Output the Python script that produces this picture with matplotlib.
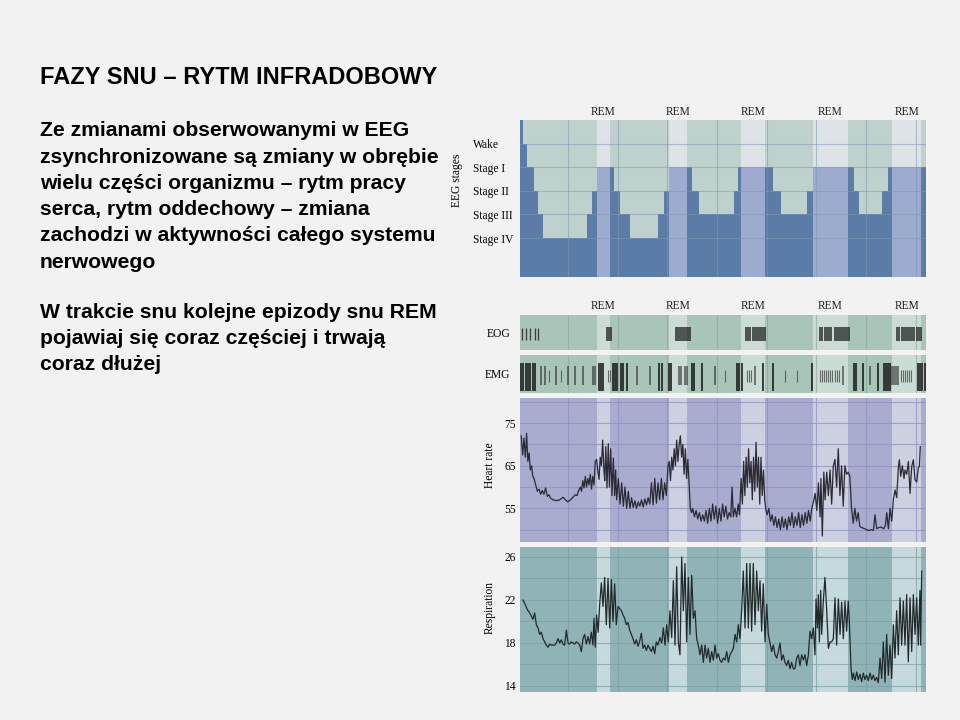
import numpy as np
import matplotlib
matplotlib.use("Agg")
import matplotlib.pyplot as plt

# ---------------- data ----------------
title = "FAZY SNU – RYTM INFRADOBOWY"
para1 = ["Ze zmianami obserwowanymi w EEG",
         "zsynchronizowane są zmiany w obrębie",
         "wielu części organizmu – rytm pracy",
         "serca, rytm oddechowy – zmiana",
         "zachodzi w aktywności całego systemu",
         "nerwowego"]
para2 = ["W trakcie snu kolejne epizody snu REM",
         "pojawiaj się coraz częściej i trwają",
         "coraz dłużej"]

stage_labels = ["Wake", "Stage I", "Stage II", "Stage III", "Stage IV"]
stage_levels = [1, 2, 3, 4, 5]

night_end = 491.1      # minutes
lights_off = 1.6       # minutes before the first hour mark

# hypnogram: segment start (min), depth level, REM flag
hyp_start = [0, 3.3, 8.8, 16.9, 21.8, 28.2, 81.0, 86.7, 92.8,
             108.9, 114.1, 121.0, 133.1, 166.6, 173.8, 180.2,
             201.7, 207.7, 216.9, 258.5, 263.3, 267.3,
             296.4, 305.7, 315.7, 347.5, 354.1,
             397.1, 404.0, 410.4, 438.3, 445.5, 450.4, 485.1]
hyp_level = [0, 1, 2, 3, 4, 5, 4, 3, 2,
             2, 3, 4, 5, 4, 3, 2,
             2, 3, 4, 3, 2, 2,
             2, 3, 4, 3, 2,
             2, 3, 4, 3, 2, 2, 2]
hyp_rem = [0, 0, 0, 0, 0, 0, 0, 0, 1,
           0, 0, 0, 0, 0, 0, 1,
           0, 0, 0, 0, 0, 1,
           0, 0, 0, 0, 1,
           0, 0, 0, 0, 0, 1, 0]

# eye movements (EOG) and muscle tone (EMG) events, minutes
eog_quiet_t = [2.0, 7.3, 12.5, 18.1, 21.5]
eog_burst_t = [105.0, 107.5, 110.5,
               188.5, 191.0, 193.5, 196.0, 198.5, 201.0, 203.5, 206.0,
               273.5, 276.0, 278.5, 281.5, 284.0, 286.5, 289.0, 291.5,
               294.0, 296.5,
               362.5, 365.0, 369.0, 371.5, 374.0, 376.5, 381.0, 383.5,
               386.0, 388.5, 391.0, 393.5, 396.0, 398.5,
               456.5, 459.0, 461.5, 464.0, 467.0, 469.5, 472.0, 474.5,
               477.0, 480.0, 482.5, 485.0]

emg_tall_t = [1.2, 4.0, 6.8, 9.6, 12.4, 15.2, 18.0,
              95.5, 98.5, 101.0, 112.5, 115.0, 117.5,
              122.2, 125.0, 129.0, 168.1, 171.4, 180.0, 183.0,
              207.5, 210.5, 219.8, 262.5, 265.0, 268.0,
              294.3, 305.6, 352.8, 403.5, 406.5, 415.3, 433.4,
              440.0, 442.5, 445.0, 447.5, 481.5, 484.0, 486.5, 489.5]
emg_mid_t = [25.4, 30.2, 43.1, 57.7, 66.5, 76.6, 88.0, 90.5,
             141.2, 157.3, 192.0, 194.5, 200.0, 202.5, 236.0, 284.3,
             391.1, 423.4, 449.5, 452.0, 454.5, 457.0]
emg_short_t = [35.5, 49.6, 106.5, 108.5, 248.0, 274.0, 276.5, 279.0,
               320.5, 334.7, 363.0, 365.5, 368.0, 370.5, 373.0, 375.5,
               378.0, 380.5, 383.0, 385.5, 461.0, 463.5, 466.0, 468.5,
               471.0, 473.5]

# heart rate (beats / min)
hr_t = [1.5, 3.2, 4.8, 6.5, 8.0, 9.5, 11.0, 12.5, 14.0, 15.5, 17.0, 19.0,
        21.0, 23.0, 25.0, 27.0, 29.0, 31.0, 33.0, 35.0, 37.0, 40.0, 44.0,
        48.0, 52.0, 55.0, 58.0, 61.0, 64.0, 67.0, 69.0, 71.0, 73.0, 74.5,
        76.0, 77.5, 79.0, 80.5, 82.0, 83.5, 85.0, 86.5, 88.0, 89.5, 91.0,
        92.7, 94.0, 95.6, 97.0, 98.5, 100.0, 101.5, 102.5, 103.8, 105.2,
        106.8, 108.1, 109.7, 111.3, 112.9, 114.5, 115.7, 116.9, 118.9,
        121.0, 123.0, 125.0, 127.0, 129.0, 131.0, 133.0, 135.0, 137.0,
        139.0, 141.0, 143.0, 145.0, 147.0, 149.0, 151.0, 153.0, 155.0,
        157.0, 159.0, 161.0, 163.0, 165.0, 167.0, 169.0, 171.0, 173.0,
        175.0, 177.0, 179.0,
        180.5, 182.0, 183.5, 185.0, 186.5, 188.0, 189.5, 191.0, 192.5,
        194.0, 195.5, 197.0, 198.5, 200.0, 201.5, 203.0, 204.5, 206.0, 207.5,
        209.0, 211.0, 213.0, 215.0, 217.0, 219.0, 221.0, 223.0, 225.0,
        227.0, 229.0, 231.0, 233.0, 235.0, 237.0, 239.0, 241.0, 243.0,
        245.0, 247.0, 249.0, 251.0, 253.0, 255.0, 256.5, 258.0, 260.0,
        262.0, 264.0, 265.5,
        267.5, 269.0, 270.5, 272.0, 273.5, 275.0, 276.5, 278.0, 279.5,
        281.0, 282.5, 284.0, 285.5, 287.0, 288.5, 290.0, 291.5, 293.0,
        294.5, 296.0, 297.5,
        299.0, 301.0, 303.0, 305.0, 307.0, 309.0, 311.0, 313.0, 315.0,
        317.0, 319.0, 321.0, 323.0, 325.0, 327.0, 329.0, 331.0, 333.0,
        335.0, 337.0, 339.0, 341.0, 343.0, 345.0, 347.0, 349.0, 351.0, 353.0,
        355.5, 357.0, 359.0, 361.0, 363.0, 364.0, 365.7, 367.5, 369.0,
        371.0, 373.0, 375.0, 377.0, 379.0, 381.0, 383.0, 385.0, 387.0,
        389.0, 391.0, 393.0, 395.0, 397.0, 399.0, 401.0,
        403.0, 405.0, 407.0, 409.0, 411.0, 413.0, 416.0, 419.0, 422.0,
        425.0, 427.5, 429.4, 431.5, 434.0, 437.0, 440.0, 442.0, 443.6,
        445.6, 447.6, 449.6,
        451.6, 453.6, 455.7, 457.7, 458.9, 460.5, 462.5, 464.5, 465.7,
        467.8, 469.8, 471.8, 473.8, 475.8, 477.8, 479.9, 481.9, 483.1, 484.2]
hr_bpm = [72.0, 67.5, 71.5, 67.0, 72.6, 66.0, 68.0, 64.0, 65.0, 62.5, 62.0, 60.5,
          59.0, 59.5, 58.3, 59.2, 58.3, 59.8, 57.8, 58.2, 57.4, 57.0, 56.8,
          57.0, 57.6, 57.0, 56.5, 57.0, 57.6, 58.2, 58.0, 59.2, 60.0, 59.0,
          61.5, 59.8, 62.5, 60.0, 62.0, 60.5, 63.0, 59.5, 62.5, 60.5, 66.0,
          66.5, 64.0, 61.8, 67.0, 65.0, 71.0, 64.0, 61.5, 69.5, 59.8,
          70.2, 60.0, 69.0, 58.0, 66.8, 58.0, 64.0, 57.0, 62.0,
          56.0, 61.0, 55.5, 60.0, 55.0, 59.0, 55.0, 57.5, 55.2,
          56.8, 55.0, 56.5, 55.5, 57.0, 55.3, 57.2, 55.8, 57.5,
          56.0, 61.0, 55.8, 62.0, 56.2, 61.0, 57.0, 62.0, 57.0,
          61.0, 58.0, 65.0,
          66.0, 61.5, 67.0, 64.0, 69.0, 65.0, 71.0, 66.0, 70.0,
          72.0, 67.0, 70.0, 63.0, 69.0, 62.0, 66.5, 61.0, 55.0, 54.0,
          55.0, 53.0, 54.5, 52.5, 54.0, 52.0, 53.5, 52.0, 54.5,
          51.5, 55.0, 52.0, 56.0, 52.5, 55.5, 51.5, 55.0, 52.0,
          56.0, 53.0, 55.5, 52.5, 54.0, 53.0, 60.0, 53.0, 55.0,
          53.0, 56.0, 53.5,
          62.0, 56.0, 66.0, 58.0, 67.0, 60.0, 69.0, 61.0, 66.0,
          57.0, 67.0, 59.0, 70.5, 60.0, 67.0, 56.0, 67.0, 58.0,
          64.0, 57.0, 54.5,
          53.5, 55.0, 52.0, 53.5, 51.0, 53.0, 50.5, 52.5, 50.0,
          53.0, 50.5, 52.5, 50.0, 53.0, 51.0, 54.0, 50.5, 53.0,
          51.0, 54.0, 50.5, 53.5, 51.0, 54.0, 51.5, 54.5, 52.0, 55.0,
          57.0, 58.5, 54.5, 61.0, 53.0, 62.0, 48.5, 63.5, 57.0,
          63.5, 58.0, 64.0, 56.0, 65.0, 66.5, 60.0, 69.0, 58.0,
          65.0, 55.5, 65.0, 63.0, 63.5, 62.5, 55.0,
          51.5, 55.0, 52.0, 54.0, 50.8, 50.5, 50.3, 50.0, 49.8,
          50.0, 49.8, 53.5, 50.2, 50.5, 50.6, 50.2, 51.0, 54.0,
          50.2, 55.0, 52.0,
          57.0, 59.3, 57.5, 64.8, 66.4, 62.5, 65.0, 62.0, 64.0,
          63.0, 66.0, 58.5, 64.8, 66.4, 61.7, 61.2, 64.6, 64.8, 69.5]

# respiration (breaths / min)
resp_t = [3.6, 5.6, 8.9, 11.7, 13.7, 15.7, 17.7, 19.8, 21.8, 23.8, 25.8, 27.8,
          29.8, 31.9, 33.9, 35.9, 37.9, 41.9, 43.9, 46.0, 48.0, 50.0, 52.0,
          54.0, 56.1, 58.1, 60.1, 62.1, 64.1, 66.1, 68.1, 70.2, 72.2, 74.2,
          76.2, 78.2, 80.2, 82.3, 84.3, 86.3, 88.3, 89.5, 91.1, 92.7,
          94.5, 96.4, 98.4, 100.4, 102.4, 104.4, 106.5, 108.5, 110.5, 112.5,
          114.5, 116.5, 118.5, 120.6, 122.6, 124.6, 126.6, 128.6, 130.6,
          132.7, 134.7, 136.7, 138.7, 140.7, 142.8, 144.8, 146.8, 148.8,
          150.8, 152.8, 154.8, 156.9, 158.9, 160.9, 162.9, 164.9, 166.9,
          169.3, 171.4, 173.4, 175.4, 177.4, 179.4, 181.4, 183.5, 185.5,
          187.5, 189.5, 191.5, 193.5, 195.6, 197.6, 199.6, 201.6, 203.6,
          205.6, 207.7, 209.7, 211.7, 213.7, 215.7, 217.7, 219.8, 221.8,
          223.8, 225.8, 227.8, 229.8, 231.8, 233.9, 235.9, 237.9, 239.9,
          241.9, 243.9, 246.0, 248.0, 250.0, 252.0, 254.0, 256.0, 258.1,
          260.1, 262.1, 264.1, 266.1, 268.1, 270.1, 272.2, 274.2, 276.2,
          278.2, 280.2, 282.2, 284.3, 286.3, 288.3, 290.3, 292.3, 294.3,
          296.4, 298.4, 300.4, 302.4, 304.4, 306.4, 308.5, 310.5, 312.5,
          314.5, 316.5, 318.5, 320.5, 322.6, 324.6, 326.6, 328.6, 330.6,
          332.6, 334.7, 336.7, 338.7, 340.7, 342.7, 344.7, 346.8, 348.8,
          350.8, 352.8, 354.8, 356.8, 358.1, 359.7, 360.9, 362.1, 363.7,
          364.9, 366.9, 368.9, 371.0, 373.0, 375.0, 377.0, 379.0, 381.0,
          383.0, 385.1, 387.1, 389.1, 391.1, 393.1, 395.1, 397.0, 398.4,
          400.4, 402.0, 403.2, 405.2, 407.2, 409.2, 411.3, 413.3, 415.3,
          417.3, 419.3, 421.3, 423.4, 425.4, 427.4, 429.4, 431.4, 433.4,
          435.5, 437.5, 439.5, 441.5, 443.5, 445.5, 447.6, 449.6, 451.6,
          453.6, 455.6, 457.6, 459.7, 461.7, 463.7, 465.7, 467.7, 469.7,
          471.8, 473.8, 475.8, 477.8, 479.8, 481.8, 483.8, 484.6, 485.9]
resp_rate = [22.0, 21.7, 21.1, 20.8, 20.5, 20.2, 20.8, 19.7, 19.4, 18.8, 19.0, 18.4,
             18.1, 17.8, 17.6, 17.9, 17.8, 17.8, 18.0, 18.4, 18.0, 18.3, 17.9,
             17.8, 19.2, 18.0, 17.9, 18.1, 18.0, 17.9, 18.1, 18.0, 17.8, 17.2,
             18.4, 18.8, 17.9, 18.6, 17.9, 19.0, 17.8, 20.3, 17.6, 20.6,
             19.0, 21.6, 23.6, 21.4, 24.1, 19.7, 24.0, 19.4, 23.9, 20.0,
             23.5, 19.7, 21.4, 21.2, 21.0, 20.6, 20.3, 19.7, 19.9,
             19.2, 18.8, 18.4, 17.9, 18.3, 17.7, 18.2, 18.9, 17.5,
             17.8, 17.3, 17.8, 17.5, 17.2, 17.7, 17.0, 18.1, 17.8,
             18.5, 18.0, 19.4, 17.8, 19.7, 18.1, 21.0, 18.5, 23.8,
             17.8, 25.1, 18.1, 16.9, 26.0, 21.0, 25.4, 18.1, 24.1,
             18.8, 24.3, 20.3, 21.0, 18.4, 17.8, 16.9, 17.8, 16.2,
             17.8, 16.6, 17.5, 16.2, 17.2, 16.4, 17.8, 16.6, 17.0,
             16.4, 16.2, 16.6, 16.4, 17.2, 16.2, 16.9, 17.2, 17.5,
             18.8, 18.1, 19.7, 18.4, 21.0, 24.7, 19.4, 25.4, 19.4,
             25.4, 19.1, 25.4, 19.7, 24.7, 21.0, 23.8, 19.1, 23.5,
             18.1, 21.6, 18.8, 18.0, 17.2, 17.8, 16.9, 16.6, 17.2,
             18.0, 16.4, 16.9, 16.2, 15.9, 16.4, 15.6, 16.2, 15.6,
             15.6, 16.6, 16.9, 15.9, 16.9, 16.4, 16.9, 15.9, 16.9,
             19.1, 18.4, 19.4, 16.9, 22.1, 19.4, 22.5, 18.1, 22.9,
             18.8, 21.9, 24.1, 21.0, 17.5, 18.1, 18.1, 18.4, 22.2,
             17.8, 22.1, 18.8, 21.8, 18.4, 21.9, 19.1, 21.9, 20.0,
             15.6, 14.6, 15.2, 14.5, 15.3, 14.6, 15.1, 14.4, 15.2,
             14.6, 15.0, 14.5, 15.2, 14.6, 15.0, 14.5, 14.8, 14.3,
             16.6, 14.7, 18.1, 14.35, 18.8, 15.0, 17.8, 14.7, 19.7,
             16.6, 21.0, 16.9, 22.2, 17.8, 21.9, 17.8, 22.5, 16.25,
             22.2, 17.2, 22.5, 18.8, 22.2, 17.8, 22.9, 17.8, 24.7]

# ---------------- styling ----------------
W, H = 960, 720
BG = "#f2f2f2"
SERIF = ["Liberation Serif", "DejaVu Serif"]
SANS = ["Liberation Sans", "DejaVu Sans"]

hyp_light, hyp_dark = "#bfd1cd", "#5b7ca6"
hyp_rem_top, hyp_rem_bottom = "#dde3e7", "#9dabcf"
eog_bg, eog_rem = "#a9c5b8", "#cadcd4"
hr_bg, hr_rem = "#a9abcf", "#cdd0e1"
resp_bg, resp_rem = "#8fb3b7", "#c6d9dc"


def px_rect(x0, y0, x1, y1):
    return [x0 / W, 1 - y1 / H, (x1 - x0) / W, (y1 - y0) / H]


ends = hyp_start[1:] + [night_end]
rem_spans = [(s, e) for s, e, r in zip(hyp_start, ends, hyp_rem) if r]
hour_marks = np.arange(60, night_end, 60) - lights_off

fig = plt.figure(figsize=(W / 100, H / 100), dpi=100, facecolor=BG)

# left text
fig.text(40 / W, 1 - 78 / H, title, family=SANS, weight="bold",
         fontsize=17, ha="left", va="center")
for i, line in enumerate(para1):
    fig.text(40 / W, 1 - (131 + 26.2 * i) / H, line, family=SANS, weight="bold",
             fontsize=15.2, ha="left", va="center")
for i, line in enumerate(para2):
    fig.text(40 / W, 1 - (313 + 25.5 * i) / H, line, family=SANS, weight="bold",
             fontsize=15.2, ha="left", va="center")


def base_axes(rect, face):
    ax = fig.add_axes(rect, facecolor=face)
    ax.set_xlim(0, night_end)
    for sp in ax.spines.values():
        sp.set_visible(False)
    ax.set_xticks([])
    ax.tick_params(axis="y", length=0, labelsize=8.3)
    return ax


def serif_ticks(ax):
    for lab in ax.get_yticklabels():
        lab.set_family(SERIF)


def rem_labels(ax, offset):
    for s, e in rem_spans:
        ax.annotate("REM", xy=((s + e) / 2, 1), xycoords=("data", "axes fraction"),
                    xytext=(0, offset), textcoords="offset points",
                    ha="center", va="center", fontsize=8.3, family=SERIF,
                    color="#222222")


# ---- hypnogram ----
ax = base_axes(px_rect(520, 120, 926, 277), hyp_dark)
ymax = 6.65
ax.set_ylim(ymax, 0)
for s, e, lev, r in zip(hyp_start, ends, hyp_level, hyp_rem):
    top_c = hyp_rem_top if r else hyp_light
    bot_c = hyp_rem_bottom if r else hyp_dark
    ax.fill_between([s, e], 0, lev, color=top_c, lw=0, zorder=1)
    ax.fill_between([s, e], lev, ymax, color=bot_c, lw=0, zorder=1)
for lev in stage_levels:
    ax.axhline(lev, color="#7f98b4", lw=0.8, alpha=0.55, zorder=2)
for h in hour_marks:
    ax.axvline(h, color="#7f98b4", lw=0.8, alpha=0.55, zorder=2)
ax.set_yticks(stage_levels, stage_labels)
ax.tick_params(axis="y", pad=34)
for lab in ax.get_yticklabels():
    lab.set_horizontalalignment("left")
serif_ticks(ax)
rem_labels(ax, 6)
fig.text(457 / W, 1 - 180 / H, "EEG stages", rotation=90, family=SERIF,
         fontsize=8.3, ha="center", va="center")

# ---- EOG ----
ax = base_axes(px_rect(520, 315, 926, 350), eog_bg)
ax.set_ylim(0, 1)
for s, e in rem_spans:
    ax.axvspan(s, e, color=eog_rem, lw=0, zorder=1)
for h in hour_marks:
    ax.axvline(h, color="#86a596", lw=0.8, alpha=0.6, zorder=2)
ax.vlines(eog_quiet_t, 0.3, 0.62, color="#3a3a3a", lw=0.9, zorder=3)
ax.vlines(eog_burst_t, 0.26, 0.66, color="#151515", lw=1.15, alpha=0.85, zorder=3)
ax.set_yticks([0.5], ["EOG"])
ax.tick_params(axis="y", pad=7)
serif_ticks(ax)
rem_labels(ax, 6.5)

# ---- EMG ----
ax = base_axes(px_rect(520, 355, 926, 393), eog_bg)
ax.set_ylim(0, 1)
for s, e in rem_spans:
    ax.axvspan(s, e, color=eog_rem, lw=0, zorder=1)
for h in hour_marks:
    ax.axvline(h, color="#86a596", lw=0.8, alpha=0.6, zorder=2)
ax.vlines(emg_tall_t, 0.06, 0.78, color="#111111", lw=1.3, alpha=0.85, zorder=3)
ax.vlines(emg_mid_t, 0.2, 0.7, color="#2a2a2a", lw=1.1, alpha=0.75, zorder=3)
ax.vlines(emg_short_t, 0.3, 0.6, color="#3a3a3a", lw=0.8, alpha=0.7, zorder=3)
ax.set_yticks([0.5], ["EMG"])
ax.tick_params(axis="y", pad=7)
serif_ticks(ax)

# ---- heart rate ----
ax = base_axes(px_rect(520, 398, 926, 542), hr_bg)
ax.set_ylim(47.1, 80.9)
for s, e in rem_spans:
    ax.axvspan(s, e, color=hr_rem, lw=0, zorder=1)
for v in [50, 55, 60, 65, 70, 75, 80]:
    ax.axhline(v, color="#8c8fbd", lw=0.8, alpha=0.7, zorder=2)
for h in hour_marks:
    ax.axvline(h, color="#8c8fbd", lw=0.8, alpha=0.7, zorder=2)
ax.plot(hr_t, hr_bpm, color="#2a2a33", lw=0.9, zorder=3)
ax.set_yticks([55, 65, 75])
ax.tick_params(axis="y", pad=3)
serif_ticks(ax)
fig.text(490 / W, 1 - 465 / H, "Heart rate", rotation=90, family=SERIF,
         fontsize=8.3, ha="center", va="center")

# ---- respiration ----
ax = base_axes(px_rect(520, 547, 926, 692), resp_bg)
ax.set_ylim(13.44, 26.93)
for s, e in rem_spans:
    ax.axvspan(s, e, color=resp_rem, lw=0, zorder=1)
for v in [14, 16, 18, 20, 22, 24, 26]:
    ax.axhline(v, color="#7c9fa4", lw=0.8, alpha=0.7, zorder=2)
for h in hour_marks:
    ax.axvline(h, color="#7c9fa4", lw=0.8, alpha=0.7, zorder=2)
ax.plot(resp_t, resp_rate, color="#22292b", lw=0.9, zorder=3)
ax.set_yticks([14, 18, 22, 26])
ax.tick_params(axis="y", pad=3)
serif_ticks(ax)
fig.text(490 / W, 1 - 608 / H, "Respiration", rotation=90, family=SERIF,
         fontsize=8.3, ha="center", va="center")

fig.savefig("out.png", dpi=100, facecolor=BG)
plt.close(fig)
